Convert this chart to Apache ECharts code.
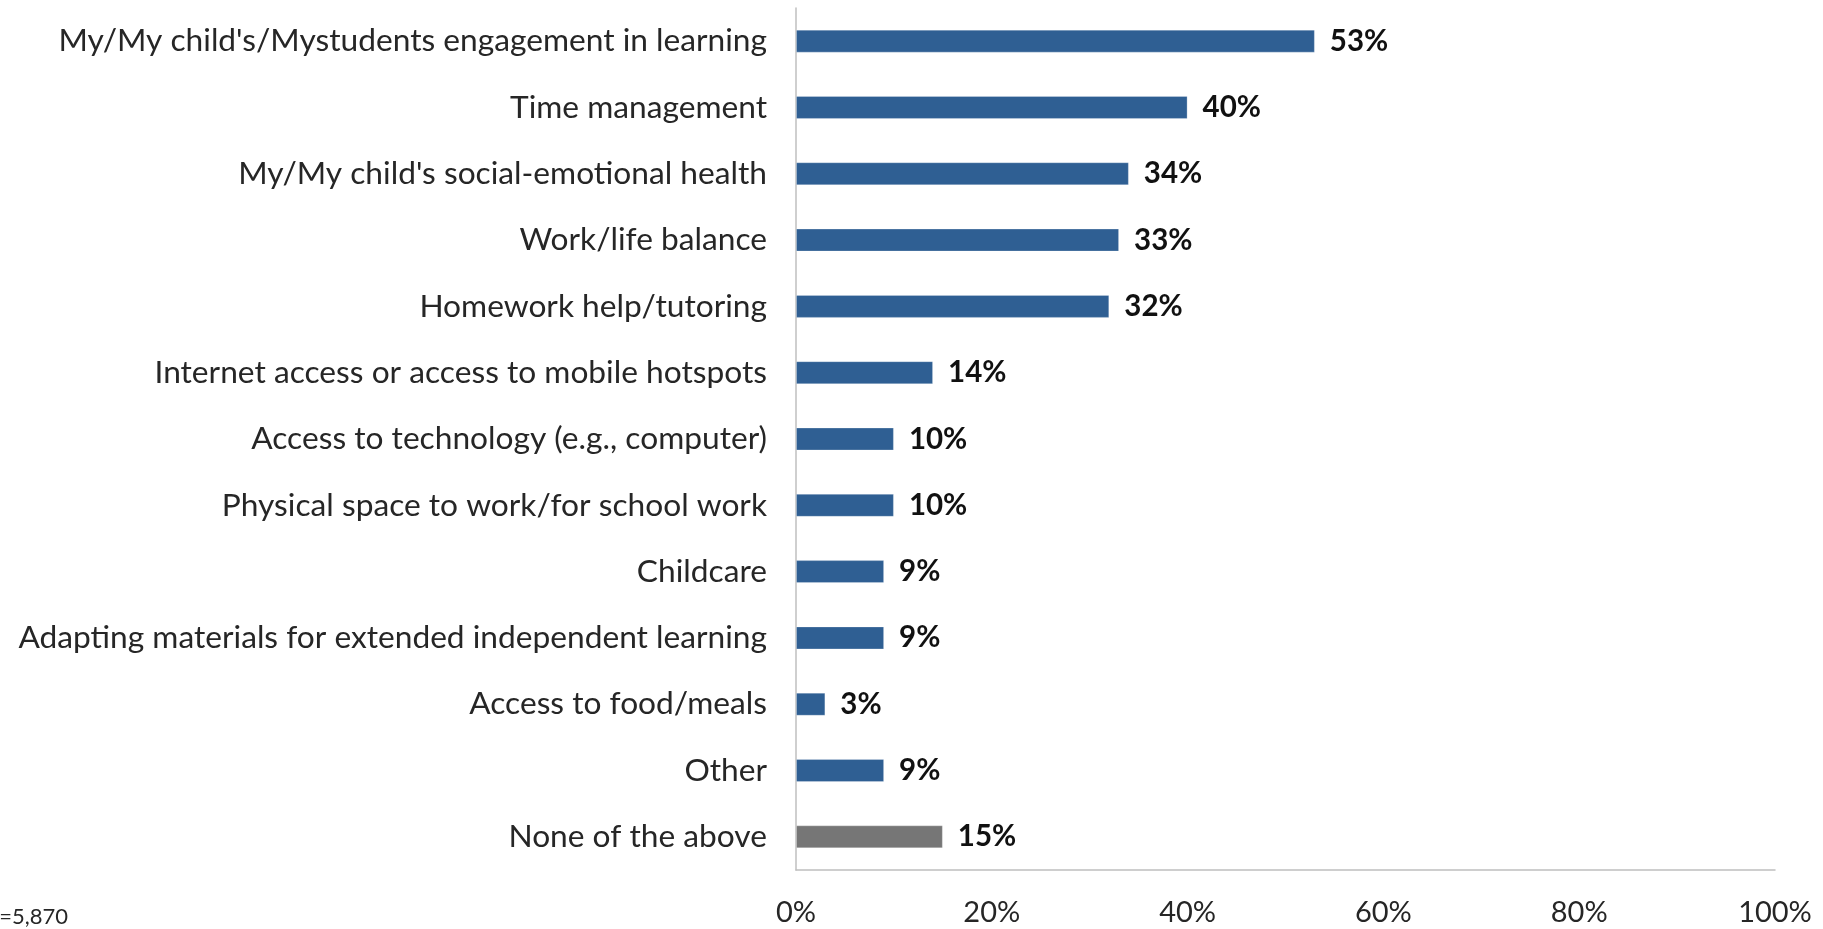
<!DOCTYPE html>
<html>
<head>
<meta charset="utf-8">
<script src="https://cdn.jsdelivr.net/npm/echarts@6/dist/echarts.min.js"></script>
<style>
  html, body { margin: 0; padding: 0; background: #ffffff; }
  #chart { width: 1823px; height: 929px; }
</style>
</head>
<body>
<div id="chart"></div>
<script>
// Survey responses, listed top to bottom
const categories = [
  "My/My child's/Mystudents engagement in learning",
  "Time management",
  "My/My child's social-emotional health",
  "Work/life balance",
  "Homework help/tutoring",
  "Internet access or access to mobile hotspots",
  "Access to technology (e.g., computer)",
  "Physical space to work/for school work",
  "Childcare",
  "Adapting materials for extended independent learning",
  "Access to food/meals",
  "Other",
  "None of the above"
];
const values = [53, 40, 34, 33, 32, 14, 10, 10, 9, 9, 3, 9, 15];
const xTicks = [0, 20, 40, 60, 80, 100];
const sampleNote = "n=5,870";

const BLUE = "#2F5F93";
const GREY = "#767676";

const chart = echarts.init(document.getElementById("chart"), null, { renderer: "canvas" });

// y-axis is inverted so the first category sits at the top
const seriesData = values.map((v, i) => ({
  value: v,
  itemStyle: { color: categories[i] === "None of the above" ? GREY : BLUE }
}));

chart.setOption({
  animation: false,
  textStyle: { fontFamily: "Lato" },
  grid: { left: 796, right: 48, top: 8, bottom: 59, containLabel: false },
  xAxis: {
    type: "value",
    min: 0,
    max: 100,
    interval: 20,
    axisLine: { show: true, lineStyle: { color: "#BFBFBF", width: 1.5 } },
    axisTick: { show: false },
    splitLine: { show: false },
    axisLabel: {
      color: "#262626",
      fontSize: 29,
      fontFamily: "Lato",
      margin: 28,
      formatter: v => (xTicks.includes(v) ? v + "%" : "")
    }
  },
  yAxis: {
    type: "category",
    data: categories,
    inverse: true,
    axisLine: { show: true, lineStyle: { color: "#BFBFBF", width: 1.5 } },
    axisTick: { show: false },
    axisLabel: {
      color: "#262626",
      fontSize: 31.7,
      fontFamily: "Lato",
      margin: 29
    }
  },
  series: [{
    type: "bar",
    data: seriesData,
    barWidth: 23,
    itemStyle: { borderColor: "rgba(255,255,255,0.25)", borderWidth: 1 },
    label: {
      show: true,
      position: "right",
      distance: 15,
      formatter: p => p.value + "%",
      color: "#111111",
      fontSize: 29.5,
      fontWeight: "bold",
      fontFamily: "Lato"
    }
  }],
  graphic: [{
    type: "text",
    left: -13,
    top: 906,
    style: {
      text: sampleNote,
      fontSize: 22,
      fontFamily: "Lato",
      fill: "#262626"
    }
  }]
});
</script>
</body>
</html>
